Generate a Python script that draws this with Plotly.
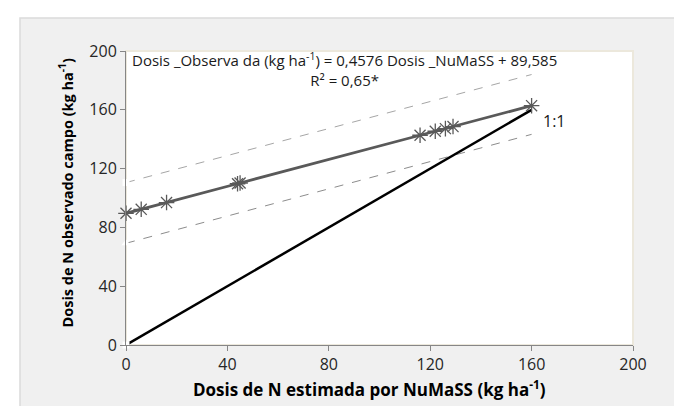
import plotly.graph_objects as go

# Data
x_est = [0, 6, 16, 44, 45, 116, 122, 126, 129, 160]
y_obs = [89.6, 92.3, 96.9, 109.7, 110.2, 142.7, 145.4, 147.2, 148.6, 162.8]
line11_x = [0, 160]
line11_y = [0, 160]
upper_x = [0, 160]
upper_y = [110.5, 184.0]
lower_x = [0, 160]
lower_y = [69.2, 143.3]
tick_vals = [0, 40, 80, 120, 160, 200]

W, H = 682, 406
L, R, T, B = 118, 57, 43, 69

fig = go.Figure()

# upper / lower dashed bands
fig.add_trace(go.Scatter(x=upper_x, y=upper_y, mode="lines",
                         line=dict(color="#a6a6a6", width=1, dash="dash"),
                         hoverinfo="skip", showlegend=False, cliponaxis=False))
fig.add_trace(go.Scatter(x=lower_x, y=lower_y, mode="lines",
                         line=dict(color="#8c8c8c", width=1, dash="dash"),
                         hoverinfo="skip", showlegend=False, cliponaxis=False))
# 1:1 line
fig.add_trace(go.Scatter(x=line11_x, y=line11_y, mode="lines",
                         line=dict(color="#000000", width=2.5),
                         hoverinfo="skip", showlegend=False, cliponaxis=False))
# white start markers covering axis (as in the reference)
fig.add_trace(go.Scatter(x=[upper_x[0], line11_x[0]], y=[upper_y[0], line11_y[0]], mode="markers",
                         marker=dict(symbol="square", size=7, color="white"),
                         hoverinfo="skip", showlegend=False, cliponaxis=False))
fig.add_trace(go.Scatter(x=[lower_x[0]], y=[lower_y[0]], mode="markers",
                         marker=dict(symbol="triangle-up", size=8, color="white"),
                         hoverinfo="skip", showlegend=False, cliponaxis=False))
# observed series
fig.add_trace(go.Scatter(x=x_est, y=y_obs, mode="lines+markers",
                         line=dict(color="#595959", width=2.8),
                         marker=dict(symbol="asterisk-open", size=13,
                                     line=dict(color="#404040", width=1.3)),
                         showlegend=False, cliponaxis=False))

axis_common = dict(range=[0, 200], tickvals=tick_vals, showgrid=False, zeroline=False,
                   showline=True, linecolor="#868686", linewidth=1,
                   ticks="outside", ticklen=5, tickcolor="#868686",
                   tickfont=dict(family="Open Sans", size=16, color="#262626"),
                   fixedrange=True)
fig.update_xaxes(**axis_common)
fig.update_yaxes(**axis_common)

shapes = [
    # outer frame
    dict(type="rect", xref="paper", yref="paper", layer="below",
         x0=(12 - L) / (W - L - R), x1=(W + 20 - L) / (W - L - R),
         y0=(H - B - (H + 20)) / (H - T - B), y1=(H - B - 10) / (H - T - B),
         fillcolor="#f0f0f0", line=dict(color="#dadada", width=1.5)),
    # plot area
    dict(type="rect", xref="paper", yref="paper", layer="below",
         x0=0, x1=1, y0=0, y1=1,
         fillcolor="white", line=dict(color="#ece8dc", width=2)),
]

annotations = [
    dict(x=86, y=187.5, xref="x", yref="y", showarrow=False, align="center",
         text="Dosis _Observa da (kg ha<sup>-1</sup>) = 0,4576 Dosis _NuMaSS + 89,585"
              "<br>R² = 0,65*",
         font=dict(family="Open Sans", size=15, color="#1a1a1a")),
    dict(x=169, y=152.5, xref="x", yref="y", showarrow=False,
         text="1:1", font=dict(family="Open Sans", size=16, color="#1a1a1a")),
    dict(x=(361 - L) / (W - L - R), y=(H - B - 395) / (H - T - B), xref="paper", yref="paper",
         showarrow=False, text="<b>Dosis de N estimada por NuMaSS (kg ha<sup>-1</sup>)</b>",
         font=dict(family="Open Sans", size=17, color="#000000")),
    dict(x=(45 - L) / (W - L - R), y=(H - B - 185) / (H - T - B), xref="paper", yref="paper",
         showarrow=False, textangle=-90,
         text="<b>Dosis de N observado campo (kg ha<sup>-1</sup>)</b>",
         font=dict(family="Open Sans", size=14.5, color="#000000")),
]

fig.update_layout(width=W, height=H, margin=dict(l=L, r=R, t=T, b=B),
                  paper_bgcolor="white", plot_bgcolor="white",
                  shapes=shapes, annotations=annotations, showlegend=False)

fig.write_html("out.html")
